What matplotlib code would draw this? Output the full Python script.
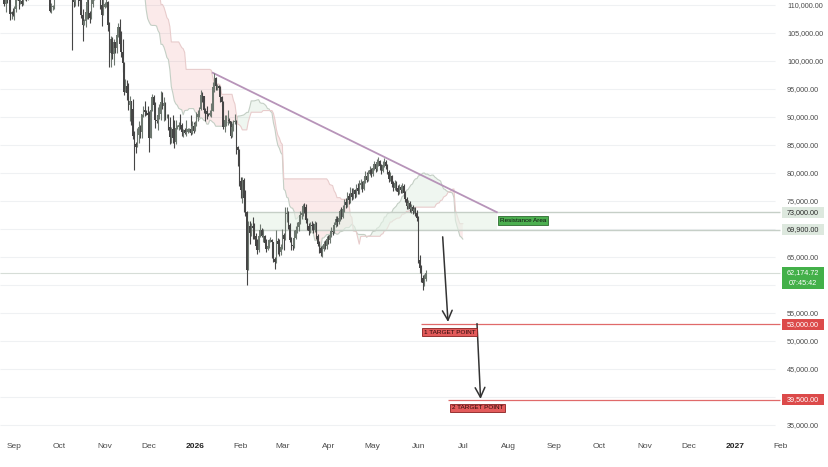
import matplotlib
matplotlib.use('Agg')
import matplotlib.pyplot as plt
import matplotlib.transforms as mtransforms
from matplotlib.patches import Rectangle
import numpy as np
import pandas as pd

plt.rcParams['font.family'] = ['Liberation Sans Narrow', 'Liberation Sans', 'DejaVu Sans']

# daily candles, values in thousands of USD, first candle on 2025-08-22
first_date = '2025-08-22'
first_open = 112.4
close = [
    116.9, 115.4, 113.5, 110.1, 111.8, 111.2, 112.5, 108.4, 108.8, 108.2,  # Aug
    109.2, 111.2, 111.7, 110.7, 110.7, 110.2, 111.1, 112.0, 111.5, 113.9,  # Sep
    115.5, 116.1, 115.9, 115.3, 115.4, 116.8, 116.5, 117.1, 115.7, 115.7,
    115.3, 112.7, 112.0, 113.3, 109.0, 109.7, 109.7, 112.1, 114.4, 114.1,
    118.6, 120.6, 122.3, 122.4, 123.5, 124.8, 121.4, 123.3, 121.7, 113.2,  # Oct
    110.6, 115.2, 115.3, 113.1, 110.8, 108.2, 106.5, 107.2, 108.7, 110.6,
    108.5, 107.6, 110.1, 111.0, 111.6, 114.5, 114.1, 112.9, 110.0, 108.3, 109.6,
    110.1, 110.6, 106.5, 101.5, 103.9, 101.3, 103.4, 102.3, 104.7, 106.0,  # Nov
    103.0, 101.6, 99.7, 94.4, 95.6, 94.2, 92.2, 92.9, 91.5, 86.6,
    85.1, 84.7, 86.8, 88.3, 87.3, 90.5, 91.3, 90.9, 90.8, 90.4,
    86.3, 91.3, 93.5, 92.1, 89.4, 89.3, 90.4, 90.6, 92.7, 92.0,  # Dec
    92.5, 90.3, 90.3, 88.2, 86.4, 87.8, 86.2, 85.5, 88.1, 88.3,
    88.6, 88.5, 87.4, 87.6, 87.2, 87.3, 87.8, 87.8, 87.1, 88.4, 87.5,
    88.7, 90.0, 90.6, 91.4, 93.9, 93.7, 91.3, 91.0, 90.5, 90.4,  # Jan 2026
    90.8, 91.1, 95.4, 96.9, 95.5, 95.5, 95.1, 93.6, 92.6, 88.3,
    89.4, 89.4, 89.5, 89.2, 86.6, 88.2, 89.1, 89.2, 84.6, 84.1, 78.6,
    76.9, 78.7, 75.6, 73.0, 62.7, 70.5, 69.3, 70.5, 70.1, 68.8,  # Feb
    67.0, 66.2, 68.8, 69.8, 68.8, 68.8, 67.5, 66.4, 66.9, 68.0,
    68.0, 67.6, 64.6, 64.1, 67.9, 67.4, 65.9, 66.8,
    68.9, 68.3, 72.6, 72.9, 70.8, 68.1, 67.2, 66.9, 68.4, 69.9,  # Mar
    70.4, 71.2, 72.5, 72.9, 74.1, 73.9, 71.6, 70.5, 69.6, 70.8,
    70.6, 69.8, 70.9, 68.7, 67.4, 66.6, 65.8, 66.5, 67.3, 66.9, 68.2,
    68.1, 69.0, 69.7, 69.5, 70.8, 71.7, 71.3, 71.9, 73.2, 72.2,  # Apr
    73.6, 74.8, 74.3, 75.9, 75.1, 76.4, 75.8, 76.9, 76.2, 77.4,
    76.7, 77.8, 78.3, 77.1, 78.6, 79.5, 78.8, 79.9, 80.6, 79.8,
    80.9, 81.6, 80.7, 81.9, 82.1, 81.2, 80.4, 81.5, 82.0, 81.3,  # May
    80.2, 78.9, 79.4, 78.1, 77.4, 78.2, 77.3, 76.6, 77.5, 76.9,
    77.6, 76.4, 75.3, 74.1, 74.6, 73.6, 73.9, 73.2, 73.6, 72.9, 72.0,
    64.5, 63.0, 61.2, 60.3, 61.0, 62.17,  # Jun
]
high = [
    117.4, 117.0, 115.7, 113.6, 112.4, 112.6, 113.5, 112.7, 108.9, 109.5,
    109.9, 111.8, 112.6, 112.2, 113.4, 111.2, 111.3, 112.9, 113.2, 114.3,
    115.5, 116.7, 116.4, 116.1, 116.7, 116.9, 117.3, 117.9, 117.4, 116.1,
    115.8, 115.4, 113.3, 113.9, 113.4, 110.3, 110.0, 112.3, 114.5, 114.8,
    118.6, 121.0, 123.9, 122.9, 125.6, 126.2, 125.2, 124.2, 123.8, 122.5,
    113.4, 115.8, 116.0, 115.4, 113.6, 111.8, 109.3, 107.5, 109.4, 111.7,
    114.0, 109.0, 111.0, 112.0, 111.9, 115.0, 116.4, 116.1, 113.6, 111.6, 111.2,
    110.6, 111.2, 110.8, 107.0, 104.5, 104.2, 104.0, 103.4, 105.0, 106.7,
    107.5, 105.3, 104.0, 99.9, 96.8, 96.6, 96.0, 93.8, 92.9, 93.2,
    87.5, 85.6, 88.0, 89.2, 88.5, 90.6, 91.9, 92.9, 91.2, 92.0,
    91.0, 92.3, 94.1, 94.0, 92.7, 90.3, 91.8, 92.3, 94.6, 94.5,
    93.5, 92.7, 90.6, 90.6, 90.0, 88.2, 90.4, 89.5, 89.4, 88.6,
    89.1, 90.6, 88.9, 87.9, 88.0, 89.5, 88.0, 88.0, 90.3, 89.3, 89.1,
    89.2, 90.9, 91.3, 91.8, 94.8, 94.4, 93.8, 91.6, 91.9, 90.8,
    91.2, 92.5, 96.3, 97.9, 97.2, 95.9, 95.7, 95.5, 93.7, 92.8,
    90.4, 90.3, 91.2, 89.8, 89.2, 88.9, 89.4, 90.6, 89.4, 84.8, 84.2,
    79.3, 79.2, 79.1, 76.9, 73.3, 71.5, 71.5, 71.0, 72.1, 71.0,
    69.3, 68.3, 69.3, 70.9, 70.1, 70.0, 69.0, 68.3, 67.4, 68.2,
    68.6, 68.3, 67.7, 65.0, 69.8, 68.4, 68.2, 67.4,
    70.0, 69.2, 74.0, 73.9, 73.2, 71.0, 68.6, 67.5, 69.8, 70.5,
    71.3, 72.0, 73.2, 73.6, 74.5, 74.6, 74.4, 72.0, 71.1, 71.3,
    71.4, 71.1, 71.5, 71.2, 69.1, 67.9, 67.0, 67.2, 67.8, 68.1, 68.7,
    69.0, 69.5, 70.3, 70.1, 71.3, 72.4, 72.3, 72.6, 73.6, 73.9,
    74.3, 75.3, 75.5, 76.6, 76.4, 77.5, 77.3, 77.4, 77.2, 78.1,
    78.3, 78.7, 78.9, 78.6, 79.3, 80.3, 80.1, 80.6, 81.3, 80.9,
    81.5, 82.2, 81.9, 82.5, 82.8, 82.4, 81.6, 82.1, 82.7, 82.4,
    81.6, 80.6, 80.1, 79.6, 78.5, 78.7, 78.5, 77.8, 78.1, 77.9,
    78.2, 78.0, 76.8, 75.7, 75.2, 75.0, 74.4, 74.3, 74.0, 73.9, 73.4,
    72.4, 65.3, 63.5, 61.8, 61.9, 62.6,
]
low = [
    111.7, 114.6, 112.0, 109.8, 108.7, 110.4, 110.9, 107.4, 107.5, 108.1,
    107.3, 108.8, 110.9, 109.3, 110.2, 109.9, 110.0, 110.9, 110.8, 110.9,
    113.5, 114.8, 115.4, 114.8, 114.4, 114.9, 114.7, 116.8, 115.4, 115.4,
    115.1, 112.0, 111.6, 111.5, 108.7, 108.6, 109.1, 109.3, 111.5, 112.7,
    113.9, 118.2, 119.3, 121.6, 122.0, 123.1, 120.6, 121.1, 119.7, 102.0,
    109.6, 109.8, 113.3, 109.8, 110.2, 107.6, 103.5, 106.4, 106.1, 107.5,
    107.5, 106.7, 107.5, 109.7, 110.9, 111.3, 113.9, 112.2, 109.3, 106.3, 108.6,
    109.4, 109.6, 105.3, 98.9, 98.9, 100.3, 99.3, 101.5, 101.5, 104.3,
    102.5, 100.8, 98.0, 94.0, 94.6, 93.0, 91.3, 89.3, 88.6, 86.1,
    80.6, 83.5, 84.7, 85.3, 86.2, 86.3, 90.0, 90.2, 90.3, 90.3,
    83.8, 86.2, 91.0, 91.7, 88.1, 88.9, 87.7, 89.6, 89.5, 91.5,
    89.3, 89.5, 89.8, 87.6, 85.1, 85.3, 85.3, 84.4, 85.1, 87.8,
    87.6, 87.9, 86.6, 86.4, 86.9, 86.6, 87.2, 87.3, 86.7, 86.9, 87.2,
    87.9, 88.4, 89.3, 90.0, 91.3, 92.6, 90.7, 89.3, 89.6, 90.1,
    90.2, 90.0, 91.0, 94.5, 94.9, 94.9, 94.8, 92.6, 91.9, 87.8,
    87.3, 88.4, 88.6, 88.9, 86.2, 86.4, 87.5, 88.7, 83.4, 81.2, 77.7,
    75.6, 74.6, 73.0, 72.3, 60.0, 62.8, 67.3, 68.8, 68.3, 68.2,
    66.5, 65.6, 65.9, 68.5, 68.6, 67.7, 67.2, 65.9, 66.2, 66.6,
    67.6, 64.8, 64.1, 62.8, 63.9, 65.6, 65.2, 65.4,
    66.5, 66.3, 68.1, 71.2, 70.0, 67.6, 66.2, 66.2, 66.6, 68.2,
    69.2, 69.6, 70.9, 71.8, 72.3, 72.9, 71.0, 69.8, 69.0, 69.3,
    69.9, 69.2, 69.5, 68.2, 66.9, 65.7, 65.1, 65.0, 66.0, 66.4, 66.5,
    67.4, 67.5, 68.6, 68.9, 69.3, 70.3, 70.5, 70.9, 71.4, 71.8,
    71.9, 73.1, 73.7, 73.9, 74.4, 74.6, 75.1, 75.3, 75.6, 75.8,
    76.2, 76.3, 77.2, 76.6, 76.9, 78.2, 78.4, 78.5, 79.6, 79.2,
    79.5, 80.6, 80.1, 80.4, 81.3, 80.6, 79.9, 80.2, 81.1, 80.8,
    79.8, 78.4, 78.5, 77.5, 76.8, 76.9, 76.7, 76.0, 76.3, 76.4,
    76.5, 75.9, 74.8, 73.6, 73.5, 73.1, 72.9, 72.6, 72.9, 72.4, 71.5,
    63.9, 62.2, 60.6, 59.1, 59.9, 60.8,
]

last_price = 62174.72
countdown = '07:45:42'
resistance_top = 73000
resistance_bottom = 69900
resistance_start, resistance_end = '2026-02-05', '2026-07-24'
trend_start, trend_end = ('2026-01-13', 97900), ('2026-07-24', 73000)
target_1, target_2 = 53000, 39500
target_1_from, target_2_from = '2026-06-03', '2026-06-21'
price_ticks = np.arange(35000, 110001, 5000)

base = pd.Timestamp('2026-01-01')


def day(s):
    return (pd.Timestamp(s) - base).days


fig = plt.figure(figsize=(8.29, 4.67), dpi=100)
ax = fig.add_axes([0, 32 / 467, 1, 435 / 467])
ax.set_xlim(-131.8, 428.5)
ax.set_ylim(33214, 110893)
for s in ax.spines.values():
    s.set_visible(False)

x0, x1 = ax.get_xlim()
y0, y1 = ax.get_ylim()
px_per_price = 435 / (y1 - y0)
scale_edge = x0 + (780 / 829) * (x1 - x0)
blend = mtransforms.blended_transform_factory(ax.transAxes, ax.transData)

# grid
ax.hlines(price_ticks, x0, x0 + (775 / 829) * (x1 - x0), color='#eff1f3', lw=0.8, zorder=0)

# candles
c = np.array(close) * 1000
h = np.array(high) * 1000
l = np.array(low) * 1000
o = np.concatenate([[first_open * 1000], c[:-1]])
h = np.maximum(h, np.maximum(o, c))
l = np.minimum(l, np.minimum(o, c))
dates = pd.date_range(first_date, periods=len(c), freq='D')
x = np.array((dates - base).days, dtype=float)
up = c >= o
cols = np.where(up, '#6d776f', '#454545')
ax.vlines(x, l, h, colors=cols, lw=0.8, zorder=4)
ax.bar(x, np.maximum(np.abs(c - o), 90), bottom=np.minimum(o, c), width=0.9,
       color=cols, lw=0, zorder=4)

# ichimoku cloud
hs, ls = pd.Series(h), pd.Series(l)
tenkan = (hs.rolling(9).max() + ls.rolling(9).min()) / 2
kijun = (hs.rolling(26).max() + ls.rolling(26).min()) / 2
span_a = ((tenkan + kijun) / 2).to_numpy()
span_b = ((hs.rolling(52).max() + ls.rolling(52).min()) / 2).to_numpy()
lead = x + 25
ok = ~np.isnan(span_b)
la, sa, sb = lead[ok], span_a[ok], span_b[ok]
ax.fill_between(la, sa, sb, where=sa >= sb, interpolate=True, color='#6aa86e', alpha=0.10, lw=0, zorder=1)
ax.fill_between(la, sa, sb, where=sa < sb, interpolate=True, color='#e05a5a', alpha=0.12, lw=0, zorder=1)
ax.plot(la, sa, color='#c4cfc5', lw=0.8, zorder=1.2)
ax.plot(la, sb, color='#e8cccc', lw=0.8, zorder=1.2)

# resistance area
rs, re_ = day(resistance_start), day(resistance_end)
ax.add_patch(Rectangle((rs, resistance_bottom), re_ - rs, resistance_top - resistance_bottom,
                       fc='#e6f2e7', alpha=0.6, ec='none', zorder=1.5))
ax.hlines([resistance_top, resistance_bottom], rs, scale_edge, color='#c6cfc7', lw=1.0, zorder=2)
ax.text(re_ + 17.5, (resistance_top + resistance_bottom) / 2, 'Resistance Area', fontsize=4.6,
        color='#111111', ha='center', va='center', zorder=6,
        bbox=dict(boxstyle='square,pad=0.3', fc='#4caf50', ec='#2e6b30', lw=0.6))

# trend line
ax.plot([day(trend_start[0]), day(trend_end[0])], [trend_start[1], trend_end[1]],
        color='#b794b9', lw=1.3, zorder=3)

# current price line
ax.hlines(last_price, x0, scale_edge, color='#d6ddd7', lw=0.8, zorder=0.8)

# targets
ax.hlines(target_1, day(target_1_from), scale_edge, color='#e06a6a', lw=0.9, zorder=3)
ax.hlines(target_2, day(target_2_from), scale_edge, color='#e06a6a', lw=0.9, zorder=3)
arrow = dict(arrowstyle='->,head_length=0.7,head_width=0.35', color='#333333', lw=1.1,
             shrinkA=0, shrinkB=0)
ax.annotate('', xy=(day('2026-06-21'), 53400), xytext=(day('2026-06-17') + 0.4, 68600),
            arrowprops=arrow, zorder=5)
ax.annotate('', xy=(day('2026-07-13'), 39650), xytext=(day('2026-07-10') + 0.6, 53100),
            arrowprops=arrow, zorder=5)
for lab, xd, yv in [('1 TARGET POINT', day('2026-06-22'), 51600),
                    ('2 TARGET POINT', day('2026-07-11'), 38050)]:
    ax.text(xd, yv, lab, fontsize=4.6, color='#2b0a0a', ha='center', va='center', zorder=6,
            bbox=dict(boxstyle='square,pad=0.3', fc='#e35b5b', ec='#8a2020', lw=0.6))

# price-scale tags: (value, text lines, background, text colour)
tags = [
    (resistance_top, [f'{resistance_top:,.2f}'], '#dde8de', '#2b2b2b'),
    (resistance_bottom, [f'{resistance_bottom:,.2f}'], '#dde8de', '#2b2b2b'),
    (last_price, [f'{last_price:,.2f}', countdown], '#43b049', 'white'),
    (target_1, [f'{target_1:,.2f}'], '#dc4a4a', 'white'),
    (target_2, [f'{target_2:,.2f}'], '#dc4a4a', 'white'),
]


def tag_span(value, lines):
    top = value + 5.5 / px_per_price
    bottom = value - (5.5 + 11 * (len(lines) - 1)) / px_per_price
    return bottom, top


def hidden(v):
    # a regular price label is hidden where it would run into a tag
    margin = 4 / px_per_price
    for value, lines, _, _ in tags:
        b, t = tag_span(value, lines)
        if b - margin < v < t + margin:
            return True
    return False


ax.yaxis.tick_right()
ax.set_yticks(price_ticks)
ax.set_yticklabels(['' if hidden(v) else f'{v:,.2f}' for v in price_ticks])
ax.tick_params(axis='y', length=0, pad=-30.2, labelsize=5.2, labelcolor='#4a4a4a')
for t in ax.get_yticklabels():
    t.set_horizontalalignment('left')

for value, lines, fc, tc in tags:
    b, t = tag_span(value, lines)
    ax.add_patch(Rectangle((782 / 829, b), 42 / 829, t - b, transform=blend,
                           fc=fc, ec='none', zorder=7, clip_on=False))
    for i, txt in enumerate(lines):
        ax.text(803 / 829, value - i * 11 / px_per_price, txt, transform=blend,
                fontsize=5.2, color=tc, ha='center', va='center', zorder=8)

# time scale
months = pd.date_range('2025-09-01', '2027-02-01', freq='MS')
ax.set_xticks([(m - base).days for m in months])
ax.set_xticklabels([str(m.year) if m.month == 1 else m.strftime('%b') for m in months])
ax.tick_params(axis='x', length=0, pad=6, labelsize=6, labelcolor='#4a4a4a')
for t, m in zip(ax.get_xticklabels(), months):
    if m.month == 1:
        t.set_fontweight('bold')
        t.set_color('#222222')

fig.savefig('out.png', dpi=100)
